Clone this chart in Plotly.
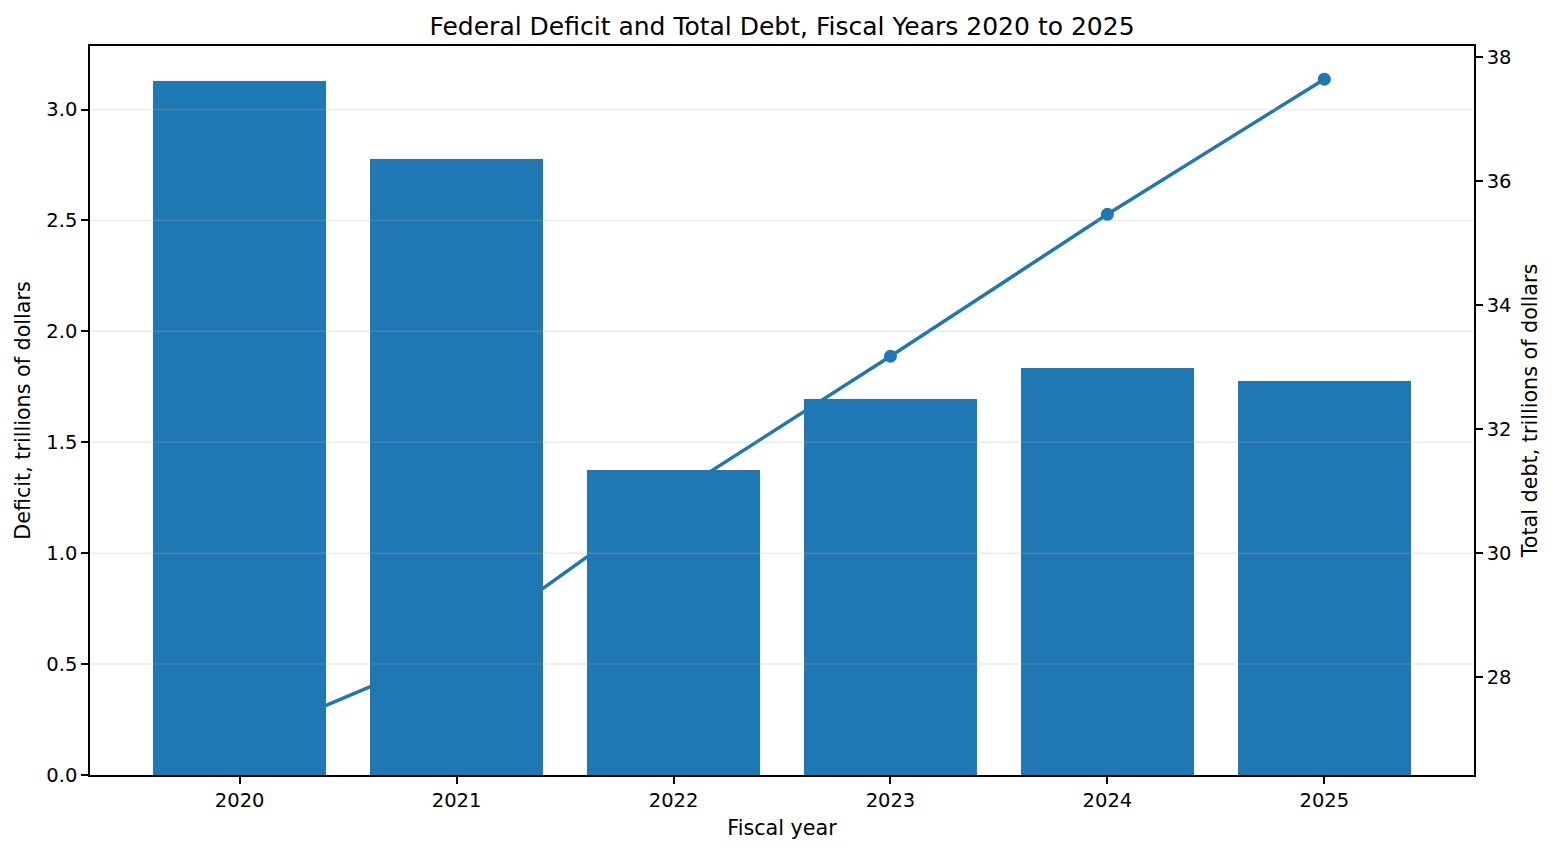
import plotly.graph_objects as go

years = [2020, 2021, 2022, 2023, 2024, 2025]
deficit = [3.13, 2.775, 1.375, 1.695, 1.833, 1.775]
total_debt = [26.95, 28.43, 30.93, 33.17, 35.46, 37.64]
deficit_ticks = [0.0, 0.5, 1.0, 1.5, 2.0, 2.5, 3.0]
debt_ticks = [28, 30, 32, 34, 36, 38]

blue = "#1f77b4"
font = "DejaVu Sans"
label_font = dict(family=font, size=20.7, color="black")

fig = go.Figure()

# line goes on the base axis so the bars (overlay axis) sit on top of it
fig.add_trace(go.Scatter(
    x=years, y=total_debt, mode="lines+markers", yaxis="y",
    line=dict(color=blue, width=3.5), marker=dict(size=13, color=blue),
    showlegend=False,
))
fig.add_trace(go.Bar(
    x=years, y=deficit, yaxis="y2", width=0.8,
    marker=dict(color=blue, line=dict(width=0)), showlegend=False,
))

# matplotlib draws the grid above the bars, so use shapes on top
for t in deficit_ticks[1:]:
    fig.add_shape(type="line", xref="paper", x0=0, x1=1, yref="y2", y0=t, y1=t,
                  line=dict(color="rgba(176,176,176,0.25)", width=1.5), layer="above")

axis_style = dict(showline=True, linecolor="black", linewidth=1.6, ticks="outside",
                  ticklen=7, tickwidth=1.6, tickcolor="black", showgrid=False,
                  zeroline=False, tickfont=dict(family=font, size=19.5, color="black"))

fig.update_layout(
    width=1560, height=854,
    margin=dict(l=82, r=94, t=38, b=87),
    paper_bgcolor="white", plot_bgcolor="white",
    font=dict(family=font, size=19.5, color="black"),
    title=dict(text="Federal Deficit and Total Debt, Fiscal Years 2020 to 2025",
               x=0.5, xref="paper", xanchor="center", y=0.979, yanchor="middle",
               font=dict(family=font, size=25, color="black")),
    xaxis=dict(axis_style, range=[2019.31, 2025.69], tickvals=years,
               mirror=True, title=dict(text="Fiscal year", standoff=9, font=label_font)),
    yaxis=dict(axis_style, side="right", range=[26.415, 38.175], tickvals=debt_ticks,
               title=dict(text="Total debt, trillions of dollars", standoff=12, font=label_font)),
    yaxis2=dict(axis_style, side="left", overlaying="y", range=[0, 3.2865],
                tickvals=deficit_ticks, tickformat=".1f",
                title=dict(text="Deficit, trillions of dollars", standoff=10, font=label_font)),
    bargap=0,
)

fig.write_html("out.html")
